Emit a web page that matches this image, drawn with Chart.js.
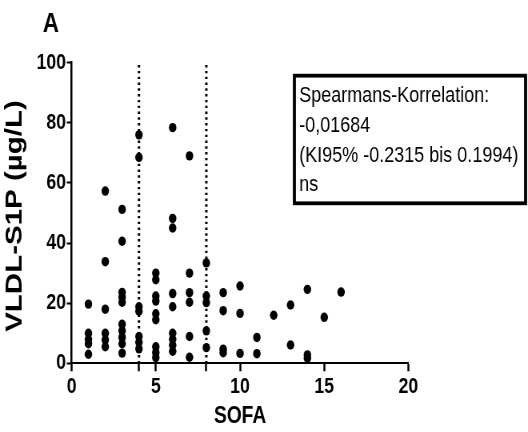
<!DOCTYPE html>
<html><head><meta charset="utf-8">
<script src="https://cdn.jsdelivr.net/npm/chart.js@4"></script>
<style>
html,body{margin:0;padding:0;background:#fff;overflow:hidden;width:528px;height:432px}
#c{display:block;transform:scaleX(0.8);transform-origin:0 0}
</style>
</head><body>
<canvas id="c" width="660" height="432" style="width:660px;height:432px"></canvas>
<script>
// SOFA score per patient
const sofa = [
  1,1,1,1,1,
  2,2,2,2,2,2,
  3,3,3,3,3,3,3,3,3,3,
  4,4,4,4,4,4,4,
  5,5,5,5,5,5,5,5,5,
  6,6,6,6,6,6,6,6,6,
  7,7,7,7,7,7,
  8,8,8,8,8,
  9,9,9,9,
  10,10,10,
  11,11,
  12,
  13,13,
  14,14,14,
  15,
  16
];
// VLDL-S1P (µg/L) per patient
const vldlS1P = [
  19.7,10,8,6.5,3,
  57.3,33.8,18,10,7.8,5.5,
  51.2,40.6,23.6,22,20.3,13,10.8,8.6,6.5,3.4,
  76,68.5,18.8,17.3,8.9,7,4.8,
  30,27.8,22.4,20.7,16.5,14.5,5.5,3.6,1.9,
  78.4,48.2,45,23.2,18.8,10,8,6,4,
  69,30,23.5,20.3,8.9,2,
  33.4,22.4,20.2,10.8,5.2,
  23.5,17.5,4.7,3.5,
  25.7,16.6,3.3,
  8.6,3.2,
  16,
  19.4,6.1,
  24.6,2.8,1.7,
  15.3,
  23.7
];
const xTicks = [0,4,5,8,10,15,20];
const xLabelled = [0,5,10,15,20];
const yTicks = [0,20,40,60,80,100];
const cutoffs = [4,8];
const panelLabel = 'A';
const xTitle = 'SOFA';
const yTitle = 'VLDL-S1P (µg/L)';
const boxLines = ['Spearmans-Korrelation:','-0,01684','(KI95% -0.2315 bis 0.1994)','ns'];

const F = "'Liberation Sans', Arial, sans-serif";

const annot = {
  id:'annot',
  afterDraw(chart){
    const c = chart.ctx;
    c.save();
    c.fillStyle = '#000';
    c.font = 'bold 28px ' + F;
    c.textAlign = 'left'; c.textBaseline = 'alphabetic';
    c.fillText(panelLabel, 53.5, 32);
    c.font = 'bold 24px ' + F;
    c.textAlign = 'center';
    const xa = chart.chartArea;
    c.fillText(xTitle, (xa.left + xa.right)/2, 423);
    c.save();
    c.translate(27, 216);
    c.rotate(-Math.PI/2);
    c.font = 'bold 29.5px ' + F;
    c.textAlign = 'center';
    c.fillText(yTitle, 0, 0);
    c.restore();
    // box
    c.lineWidth = 3.8;
    c.strokeStyle = '#000';
    c.strokeRect(368, 75.7, 289, 127.6);
    c.font = '22.5px ' + F;
    c.textAlign = 'left';
    const bl = [102, 132, 162, 191];
    boxLines.forEach((t,i)=>c.fillText(t, 374, bl[i]));
    c.restore();
  }
};

new Chart(document.getElementById('c').getContext('2d'), {
  type:'scatter',
  data:{datasets:[
    {data: sofa.map((x,i)=>({x:x, y:vldlS1P[i]})), pointRadius:4.7, pointHoverRadius:4.7,
     backgroundColor:'#000', borderColor:'#000', borderWidth:0, order:0, clip:false},
    ...cutoffs.map(v=>({data:[{x:v,y:0},{x:v,y:100}], showLine:true, pointRadius:0,
      borderColor:'#000', borderWidth:3, borderDash:[2.4,3.4], order:1, clip:false}))
  ]},
  options:{
    responsive:false, animation:false, devicePixelRatio:1,
    layout:{padding:{left:0, top:62.7, right:149.4, bottom:0}},
    plugins:{legend:{display:false}, tooltip:{enabled:false}},
    scales:{
      x:{type:'linear', min:0, max:20,
        afterBuildTicks:s=>{ s.ticks = xTicks.map(v=>({value:v})); },
        ticks:{callback:v=> xLabelled.includes(v) ? String(v) : '', color:'#000',
          font:{family:F, size:22, weight:'bold'}, padding:2, maxRotation:0, autoSkip:false},
        grid:{drawOnChartArea:false, drawTicks:true, tickLength:8, tickColor:'#000', tickWidth:2.5},
        border:{display:true, color:'#000', width:2},
        afterFit:s=>{ s.height = 68.7; }
      },
      y:{type:'linear', min:0, max:100,
        afterBuildTicks:s=>{ s.ticks = yTicks.map(v=>({value:v})); },
        ticks:{color:'#000', font:{family:F, size:22, weight:'bold'}, padding:1},
        grid:{drawOnChartArea:false, drawTicks:true, tickLength:6, tickColor:'#000', tickWidth:2},
        border:{display:true, color:'#000', width:2.5},
        afterFit:s=>{ s.width = 89.5; }
      }
    }
  },
  plugins:[annot]
});
</script>
</body></html>
